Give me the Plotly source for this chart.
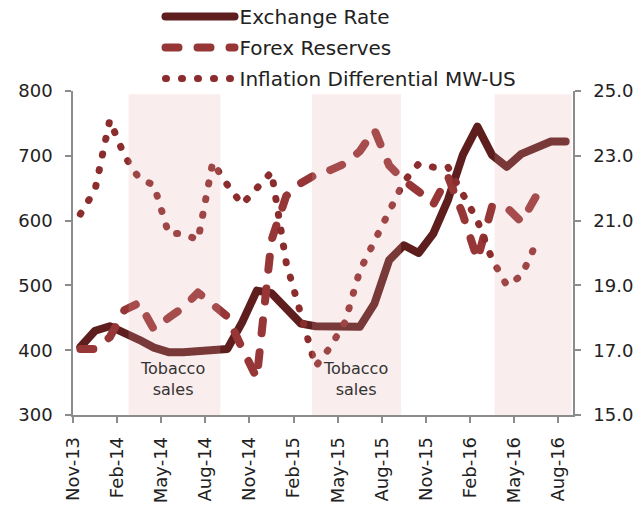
import plotly.graph_objects as go

months = ["Nov-13", "Dec-13", "Jan-14", "Feb-14", "Mar-14", "Apr-14", "May-14", "Jun-14",
          "Jul-14", "Aug-14", "Sep-14", "Oct-14", "Nov-14", "Dec-14", "Jan-15", "Feb-15",
          "Mar-15", "Apr-15", "May-15", "Jun-15", "Jul-15", "Aug-15", "Sep-15", "Oct-15",
          "Nov-15", "Dec-15", "Jan-16", "Feb-16", "Mar-16", "Apr-16", "May-16", "Jun-16",
          "Jul-16", "Aug-16"]

exchange_rate = [405, 430, 437, 428, 416, 404, 397, 397, 398, 399, 402, 443, 492, 488,
                 464, 441, 437, 437, 438, 436, 472, 539, 562, 550, 580, 632, 701, 745,
                 701, 683, 703, 713, 722, 722]

forex_reserves = [402, 402, 420, 462, 473, 432, 450, 466, 489, 472, 452, 403, 357, 570,
                  638, 658, 671, 678, 688, 707, 740, 685, 662, 645, 625, 668, 610, 540,
                  622, 620, 598, 638]

inflation_diff = [21.2, 21.95, 24.1, 23.0, 22.3, 22.1, 20.6, 20.6, 20.4, 22.8, 22.1, 21.5,
                  22.0, 22.5, 19.7, 18.0, 16.5, 17.1, 17.87, 19.45, 20.35, 21.2, 22.2,
                  22.75, 22.65, 22.65, 21.8, 21.0, 19.8, 19.0, 19.3, 20.3]

tick_labels = months[::3]

# tobacco sales seasons, in month-index units
tobacco_bands = [(3.28, 9.52), (15.76, 21.81), (28.17, 33.4)]
tobacco_label_x = [6.28, 18.7]

FONT = "DejaVu Sans"
C_EX = "#5E1E1E"
C_FX = "#963636"
C_INF = "#8C2D2D"
AXIS = "#8C8C8C"

fig = go.Figure()
fig.add_trace(go.Scatter(x=list(range(len(exchange_rate))), y=exchange_rate,
                         name="Exchange Rate", mode="lines", legendgroup="a",
                         line=dict(color=C_EX, width=8), text=months))
fig.add_trace(go.Scatter(x=list(range(len(forex_reserves))), y=forex_reserves,
                         name="Forex Reserves", mode="lines", legendgroup="b",
                         line=dict(color=C_FX, width=8, dash="13px,19px"), text=months))
fig.add_trace(go.Scatter(x=list(range(len(inflation_diff))), y=inflation_diff,
                         name="Inflation Differential MW-US", mode="lines", legendgroup="c",
                         line=dict(color=C_INF, width=7, dash="1px,15px"), yaxis="y2",
                         text=months))

for x0, x1 in tobacco_bands:
    fig.add_shape(type="rect", xref="x", yref="y", x0=x0, x1=x1, y0=300, y1=795,
                  fillcolor="rgba(230,165,165,0.2)", line=dict(width=0), layer="above")

for xl in tobacco_label_x:
    fig.add_annotation(x=xl, y=356, xref="x", yref="y", text="Tobacco<br>sales",
                       showarrow=False, font=dict(family=FONT, size=16, color="#333333"))

fig.update_layout(
    width=643, height=506,
    margin=dict(l=73, r=70, t=91, b=91, autoexpand=False),
    plot_bgcolor="white", paper_bgcolor="white",
    font=dict(family=FONT, size=18, color="#222222"),
    showlegend=True,
    legend=dict(x=0.175, y=1.29, xanchor="left", yanchor="top", itemwidth=69,
                font=dict(family=FONT, size=20, color="#222222"),
                tracegroupgap=2, bgcolor="rgba(0,0,0,0)"),
    xaxis=dict(range=[-0.5, 33.5], tickmode="array",
               tickvals=[i - 0.5 for i in range(0, len(months), 3)], ticktext=tick_labels,
               tickangle=-90, showline=True, linecolor=AXIS, linewidth=1.5,
               ticks="outside", ticklen=6, tickcolor=AXIS, tickwidth=1.5,
               ticklabelstandoff=7,
               showgrid=False, zeroline=False, tickfont=dict(size=18), automargin=False),
    yaxis=dict(range=[300, 800], tick0=300, dtick=100, showline=True, linecolor=AXIS,
               linewidth=1.5, ticks="outside", ticklen=6, tickcolor=AXIS, tickwidth=1.5,
               ticklabelstandoff=9,
               showgrid=False, zeroline=False, tickfont=dict(size=18), automargin=False),
    yaxis2=dict(range=[15, 25], tick0=15, dtick=2, tickformat=".1f", overlaying="y",
                side="right", showline=True, linecolor=AXIS, linewidth=1.5,
                ticks="outside", ticklen=6, tickcolor=AXIS, tickwidth=1.5,
                ticklabelstandoff=9,
                showgrid=False, zeroline=False, tickfont=dict(size=18), automargin=False),
)

css_js = ("var s=document.createElement('style');"
          "s.innerHTML='body{margin:0 !important;}"
          ".js-line{stroke-linecap:round !important;stroke-linejoin:round !important;}';"
          "document.head.appendChild(s);")

fig.write_html("out.html", post_script=css_js, config={"displayModeBar": False})
